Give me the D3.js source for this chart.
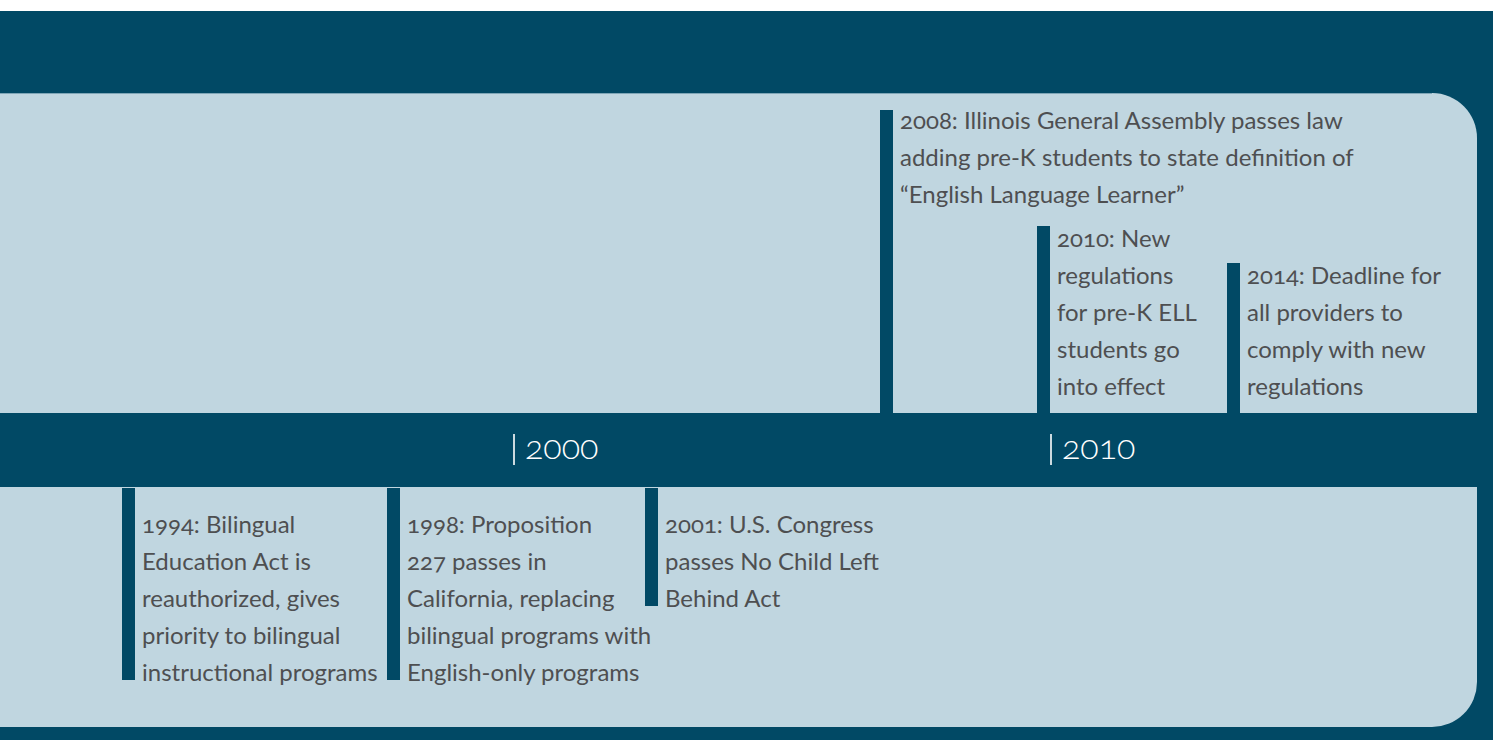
<!DOCTYPE html>
<html>
<head>
<meta charset="utf-8">
<script src="https://cdn.jsdelivr.net/npm/d3@7/dist/d3.min.js"></script>
<style>
  html, body { margin: 0; padding: 0; background: #ffffff; }
  svg { display: block; }
  .lbl { font-family: Lato, "Open Sans", sans-serif; font-variant-numeric: oldstyle-nums; }
</style>
</head>
<body>
<svg id="chart" width="1493" height="740"></svg>
<script>
// ---- data ----
const eventYears = [1994, 1998, 2001, 2008, 2010, 2014];
const eventSides = ["below", "below", "below", "above", "above", "above"];
const eventLanes = [0, 0, 0, 0, 1, 1];
const eventLines = [
  ["1994: Bilingual", "Education Act is", "reauthorized, gives", "priority to bilingual", "instructional programs"],
  ["1998: Proposition", "227 passes in", "California, replacing", "bilingual programs with", "English-only programs"],
  ["2001: U.S. Congress", "passes No Child Left", "Behind Act"],
  ["2008: Illinois General Assembly passes law", "adding pre-K students to state definition of", "\u201cEnglish Language Learner\u201d"],
  ["2010: New", "regulations", "for pre-K ELL", "students go", "into effect"],
  ["2014: Deadline for", "all providers to", "comply with new", "regulations"]
];
const tickYears = [2000, 2010];
const tickLabels = ["2000", "2010"];

// ---- layout ----
const W = 1493, H = 740;
const dark = "#014965", light = "#c0d6e0", textCol = "#4e4f51";
const topWhite = 11, panelTop = 93, panelBottom = 727, panelRight = 1477, radius = 45;
const bandTop = 413, bandBottom = 487;
const lineH = 37, fontSize = 24, barW = 13;

// piecewise timeline scale (non-uniform timeline)
const x = d3.scaleLinear()
  .domain([1994, 1998, 2000, 2001, 2008, 2010, 2014])
  .range([135, 400, 513, 658, 893, 1050, 1240]);

const svg = d3.select("#chart");

// background
svg.append("rect").attr("x", 0).attr("y", 0).attr("width", W).attr("height", H).attr("fill", "#ffffff");
svg.append("rect").attr("x", 0).attr("y", topWhite).attr("width", W).attr("height", H - topWhite).attr("fill", dark);

// light panel with rounded right corners
const p = d3.path();
p.moveTo(0, panelTop);
p.lineTo(panelRight - radius, panelTop);
p.arcTo(panelRight, panelTop, panelRight, panelTop + radius, radius);
p.lineTo(panelRight, panelBottom - radius);
p.arcTo(panelRight, panelBottom, panelRight - radius, panelBottom, radius);
p.lineTo(0, panelBottom);
p.closePath();
svg.append("path").attr("d", p.toString()).attr("fill", light);
svg.append("line").attr("x1", 0).attr("x2", panelRight - radius).attr("y1", panelTop + 0.5).attr("y2", panelTop + 0.5)
  .attr("stroke", "#7fa6b7").attr("stroke-width", 1);

// central band
svg.append("rect").attr("x", 0).attr("y", bandTop).attr("width", panelRight).attr("height", bandBottom - bandTop).attr("fill", dark);

// ticks
const ticks = svg.append("g").selectAll("g").data(tickYears).join("g")
  .attr("transform", d => `translate(${x(d) + 1},0)`);
ticks.append("line").attr("x1", 0).attr("x2", 0).attr("y1", 434).attr("y2", 465)
  .attr("stroke", "#ffffff").attr("stroke-width", 1.6);
ticks.append("text").attr("class", "lbl").attr("x", 11).attr("y", 459)
  .attr("fill", "#ffffff").attr("font-size", 34).attr("font-weight", 300)
  .text((d, i) => tickLabels[i]);

// events
const events = eventYears.map((y, i) => ({ year: y, side: eventSides[i], lane: eventLanes[i], lines: eventLines[i] }));

events.forEach(ev => {
  const xr = x(ev.year);
  const n = ev.lines.length;
  let baselines, barTop, barBottom;
  if (ev.side === "below") {
    const first = bandBottom + 46;
    baselines = d3.range(n).map(k => first + k * lineH);
    barTop = bandBottom + 1;
    barBottom = baselines[n - 1] - 1;
  } else if (ev.lane === 1) {
    const last = bandTop - 18;
    baselines = d3.range(n).map(k => last - (n - 1 - k) * lineH);
    barTop = baselines[0] - 21;
    barBottom = bandTop;
  } else {
    const first = panelTop + 36;
    baselines = d3.range(n).map(k => first + k * lineH);
    barTop = first - 19;
    barBottom = bandTop;
  }
  svg.append("rect").attr("x", xr - barW).attr("y", barTop).attr("width", barW).attr("height", barBottom - barTop)
    .attr("fill", dark);
  const t = svg.append("text").attr("class", "lbl").attr("fill", textCol).attr("font-size", fontSize);
  t.selectAll("tspan").data(ev.lines).join("tspan")
    .attr("x", xr + 7).attr("y", (d, k) => baselines[k]).text(d => d);
});
</script>
</body>
</html>
